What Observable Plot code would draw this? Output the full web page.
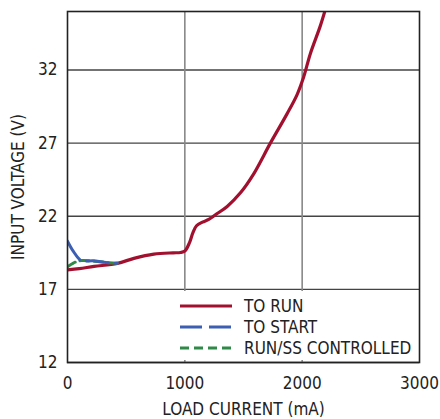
<!DOCTYPE html>
<html>
<head>
<meta charset="utf-8">
<script src="https://cdn.jsdelivr.net/npm/d3@7"></script>
<script src="https://cdn.jsdelivr.net/npm/@observablehq/plot@0.6"></script>
<style>
  html, body { margin: 0; padding: 0; background: white; }
  #wrap { position: relative; width: 440px; height: 419px; font-family: 'Liberation Sans Narrow', 'Arial Narrow', 'DejaVu Sans Condensed', sans-serif; font-stretch: condensed; color: #222; }
  #legend { position: absolute; left: 176px; top: 291px; width: 241px; height: 69px; background: white; }
  .row { position: absolute; left: 0; height: 20px; display: flex; align-items: center; font-size: 17px; }
  .row svg { margin-left: 4px; margin-right: 12px; }
</style>
</head>
<body>
<div id="wrap"></div>
<script>
// Data
const runX = [0, 100, 226, 425, 566, 736, 900, 963, 1000, 1040, 1070, 1100, 1150, 1204, 1261, 1361, 1474, 1587, 1729, 1871, 1956, 2012, 2069, 2154, 2200];
const runY = [18.33, 18.42, 18.57, 18.78, 19.12, 19.41, 19.5, 19.52, 19.62, 20.2, 20.9, 21.35, 21.6, 21.78, 22.1, 22.67, 23.6, 24.9, 27.0, 29.0, 30.3, 31.5, 33.1, 35.0, 36.2];
const startX = [0, 50, 113, 226, 354, 425];
const startY = [20.3, 19.6, 19.0, 18.95, 18.82, 18.78];
const ssX = [0, 50, 113, 226, 354, 425];
const ssY = [18.55, 18.8, 18.97, 18.93, 18.82, 18.78];
const xTicks = [0, 1000, 2000, 3000];
const yTicks = [12, 17, 22, 27, 32];
const seriesNames = ["TO RUN", "TO START", "RUN/SS CONTROLLED"];
const colors = ["#a1112f", "#3d5fb3", "#2f8a48"];
const dashes = [null, "22 7", "9 5"];

const toRows = (xs, ys) => xs.map((x, i) => ({x, y: ys[i]}));
const run = toRows(runX, runY);
const start = toRows(startX, startY);
const ss = toRows(ssX, ssY);

const font = "'Liberation Sans Narrow', 'Arial Narrow', 'DejaVu Sans Condensed', sans-serif";

const chart = Plot.plot({
  width: 440,
  height: 419,
  marginLeft: 67,
  marginRight: 21,
  marginTop: 11,
  marginBottom: 57,
  style: {fontFamily: font, fontSize: "17px", background: "white", color: "#222", fontStretch: "condensed"},
  x: {domain: [0, 3000]},
  y: {domain: [12, 36]},
  marks: [
    Plot.gridY(yTicks, {stroke: "#444", strokeOpacity: 1, strokeWidth: 1.4}),
    Plot.gridX(xTicks.slice(1, 3), {stroke: "#888", strokeOpacity: 1, strokeWidth: 1.6}),
    Plot.line(run, {x: "x", y: "y", stroke: colors[0], strokeWidth: 3.2, curve: "catmull-rom", clip: true}),
    Plot.line(ss, {x: "x", y: "y", stroke: colors[2], strokeWidth: 3, strokeDasharray: dashes[2], curve: "catmull-rom", clip: true}),
    Plot.line(start, {x: "x", y: "y", stroke: colors[1], strokeWidth: 3, strokeDasharray: dashes[1], curve: "catmull-rom", clip: true}),
    Plot.frame({stroke: "#222", strokeWidth: 1.6}),
    Plot.axisX(xTicks, {tickSize: 0, tickPadding: 14, tickFormat: "d", label: "LOAD CURRENT (mA)", labelAnchor: "center", labelArrow: "none", labelOffset: 52}),
    Plot.axisY(yTicks, {tickSize: 0, tickPadding: 10, tickFormat: "d", label: "INPUT VOLTAGE (V)", labelAnchor: "center", labelArrow: "none", labelOffset: 56})
  ]
});

const wrap = document.getElementById("wrap");
wrap.appendChild(chart);

const legend = document.createElement("div");
legend.id = "legend";
seriesNames.forEach((name, i) => {
  const row = document.createElement("div");
  row.className = "row";
  row.style.top = (5 + i * 21) + "px";
  const dash = dashes[i] ? `stroke-dasharray="${dashes[i]}"` : "";
  row.innerHTML = `<svg width="52" height="6"><line x1="0" y1="3" x2="52" y2="3" stroke="${colors[i]}" stroke-width="3" ${dash}/></svg><span>${name}</span>`;
  legend.appendChild(row);
});
wrap.appendChild(legend);
</script>
</body>
</html>
